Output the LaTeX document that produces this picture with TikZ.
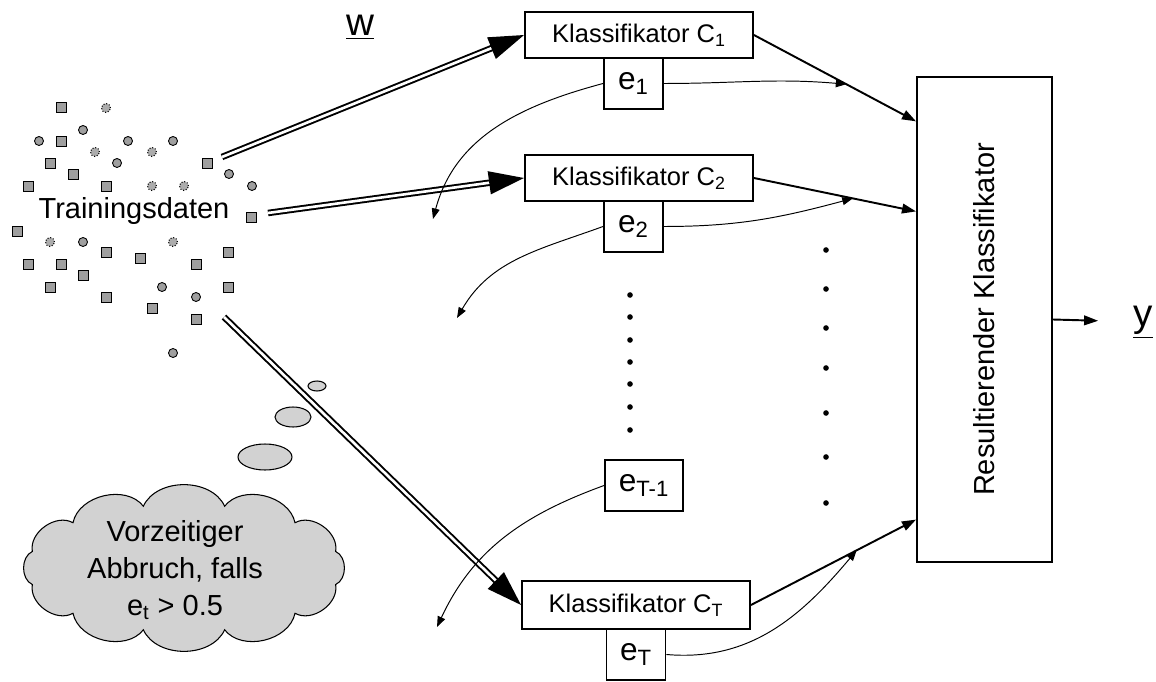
\documentclass[tikz,border=0pt]{standalone}
\usepackage{fontspec}
\setmainfont{Liberation Sans}
\usetikzlibrary{arrows.meta,positioning,calc}

\begin{document}
\begin{tikzpicture}[x=0.02cm,y=-0.02cm,
	box/.style={draw,line width=1.1pt,minimum width=4.56cm,minimum height=0.92cm,font=\fontsize{14.5}{16}\selectfont},
	ebox/.style={draw,line width=1.1pt,minimum width=1.18cm,minimum height=1.02cm,inner sep=2pt,font=\fontsize{18}{20}\selectfont},
	dbl/.style={double,double distance=1.5pt,line width=1.1pt,-{Triangle[length=20pt,width=13pt]}},
	pfeil/.style={line width=1.1pt,-{Triangle[length=8pt,width=5.5pt]}},
	fein/.style={line width=0.55pt,-{Triangle[length=6pt,width=4.5pt]}},
	sq/.style={fill=gray!75,draw=black,line width=0.5pt},
	pkt/.style={fill=gray!75,draw=black,line width=0.5pt},
	xpkt/.style={fill=gray!65,draw=black,densely dotted,line width=0.6pt},
	blase/.style={fill=gray!35,draw=black,line width=0.6pt}]
			\useasboundingbox (0,0) rectangle (1156,682);
			\foreach \x/\y in {61/107,61/141,50/163,73/174,28/186,106/186,207/163,251/217,17/231,106/252,140/258,228/252,28/264,61/264,196/264,83/275,50/287,106/297,228/287,152/308,196/319}
				\filldraw[sq] (\x,\y) ++(-5,-5) rectangle ++(10,10);
			\foreach \x/\y in {83/130,39/141,128/141,173/141,117/163,229/174,252/186,83/242,162/287,196/297,173/353}
				\filldraw[pkt] (\x,\y) circle[radius=0.09cm];
			\foreach \x/\y in {106/108,95/152,152/152,152/186,184/186,50/242,173/242}
				\filldraw[xpkt] (\x,\y) circle[radius=0.09cm];
			\node[font=\fontsize{16.5}{19}\selectfont] (daten) at (134,211) {Trainingsdaten};
			\node[font=\fontsize{22}{24}\selectfont] (w) at (360,27) {\underline{w}};
			\coordinate (t1) at (222,157);
			\coordinate (t2) at (268,213);
			\coordinate (t3) at (224,317);
			\node[box] (c1) at (639,35) {Klassifikator C\textsubscript{1}};
			\node[ebox,below=-1.1pt of c1,xshift=-0.11cm] (e1) {e\textsubscript{1}};
			\node[box] (c2) at (639,178) {Klassifikator C\textsubscript{2}};
			\node[ebox,below=-1.1pt of c2,xshift=-0.11cm] (e2) {e\textsubscript{2}};
			\node[ebox,minimum width=1.56cm] (eT1) at (644,485.5) {e\textsubscript{T-1}};
			\node[box,minimum height=0.96cm] (cT) at (636,605) {Klassifikator C\textsubscript{T}};
			\node[ebox,below=-1.1pt of cT] (eT) {e\textsubscript{T}};
			\node[draw,line width=1.1pt,minimum width=2.7cm,minimum height=9.7cm,font=\fontsize{16.5}{19}\selectfont] (res) at (984.5,319.5) {\rotatebox{90}{Resultierender Klassifikator}};
			\node[font=\fontsize{22}{24}\selectfont] (y) at (1143,322) {\underline{y}};
			\coordinate (r1) at ($(res.north west)!0.093!(res.south west)$);
			\coordinate (r2) at ($(res.north west)!0.278!(res.south west)$);
			\coordinate (rT) at ($(res.north west)!0.911!(res.south west)$);
			\coordinate (m1) at ($(c1.east)!0.57!(r1)$);
			\coordinate (m2) at ($(c2.east)!0.61!(r2)$);
			\coordinate (mT) at ($(cT.east)!0.64!(rT)$);
			\coordinate (f1) at (433,219);
			\coordinate (f2) at (457,318);
			\coordinate (fT) at (437,627);
			\draw[dbl] (t1)--(c1.west);
			\draw[dbl] (t2)--(c2.west);
			\draw[dbl] (t3)--(cT.west);
			\draw[pfeil] (c1.east)--(r1);
			\draw[pfeil] (c2.east)--(r2);
			\draw[pfeil] (cT.east)--(rT);
			\draw[pfeil,shorten >=0.58cm] (res.east)--(y);
			\draw[fein] (e1.east) to[out=0,in=175] (m1);
			\draw[fein] (e2.east) to[out=0,in=195] (m2);
			\draw[fein] (eT.east) to[out=-5,in=230] (mT);
			\draw[fein] (e1.west) to[out=195,in=75] (f1);
			\draw[fein] (e2.west) to[out=200,in=60] (f2);
			\draw[fein] (eT1.west) to[out=200,in=65] (fT);
			\foreach \y in {295,317,340,362,384,407,430}
				\fill (630,\y) circle[radius=1.6pt];
			\foreach \y in {250,289,328,368,413,457,503}
				\fill (826,\y) circle[radius=1.6pt];
			\filldraw[blase] (317,386) ellipse[x radius=0.18cm,y radius=0.1cm];
			\filldraw[blase] (293,417) ellipse[x radius=0.36cm,y radius=0.2cm];
			\filldraw[blase] (265,457) ellipse[x radius=0.54cm,y radius=0.26cm];
			\filldraw[blase] ({184+157*cos(15)},{568+64*sin(15)})
				\foreach \a in {45,75,...,375} {to[bend left=65] ({184+157*cos(\a)},{568+64*sin(\a)})} -- cycle;
			\node[align=center,font=\fontsize{16.5}{21}\selectfont] (wolke) at (175,570) {Vorzeitiger\\Abbruch, falls\\e\textsubscript{t} > 0.5};
\end{tikzpicture}
\end{document}
